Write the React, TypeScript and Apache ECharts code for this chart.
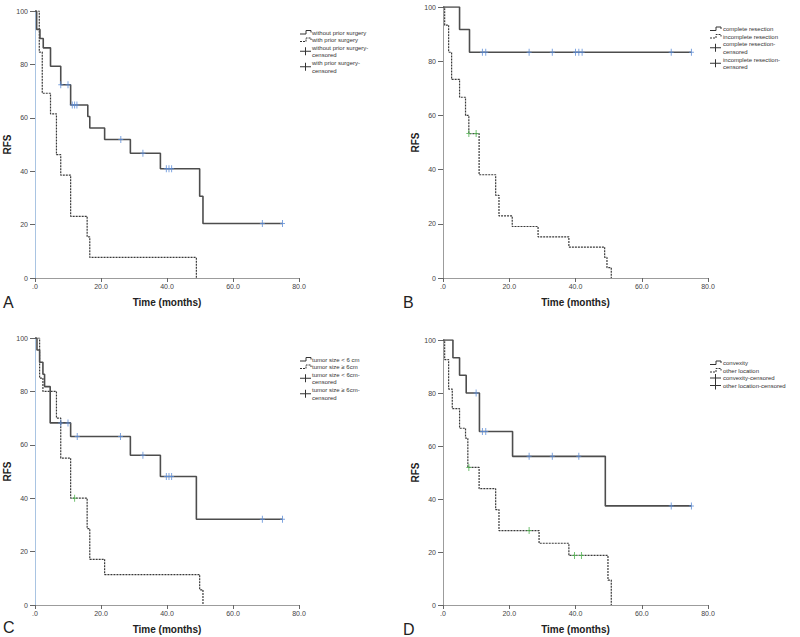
import React, { useEffect, useRef } from "react";
import * as echarts from "echarts";

// ---------- DATA ----------
// Panel A
const aSolidT = [0, 0.5, 1.5, 2.5, 4.7, 7.8, 10.8, 16, 16.6, 21.1, 28.9, 38, 49.9, 50.9, 75];
const aSolidS = [100, 93.1, 89.7, 86.2, 79.3, 72.4, 64.8, 60.5, 56.2, 51.9, 46.7, 40.9, 30.6, 20.4, 20.4];
const aSolidCensT = [7.8, 10, 11.3, 12, 12.7, 26, 32.7, 39.8, 40.6, 41.4, 68.9, 75];
const aSolidCensS = [72.4, 72.4, 64.8, 64.8, 64.8, 51.9, 46.7, 40.9, 40.9, 40.9, 20.4, 20.4];
const aDashT = [0, 1.3, 2.2, 4.7, 6.5, 7.8, 10.8, 15.8, 16.6, 48.9];
const aDashS = [100, 84.6, 69.2, 61.5, 46.2, 38.5, 23.1, 15.4, 7.7, 0];
const aDashCensT: number[] = [];
const aDashCensS: number[] = [];
const aLegend = ["without prior surgery", "with prior surgery", "without prior surgery-\ncensored", "with prior surgery-\ncensored"];

// Panel B
const bSolidT = [0, 5, 8, 75];
const bSolidS = [100, 91.7, 83.3, 83.3];
const bSolidCensT = [11.9, 12.9, 26, 33, 40, 41, 42, 68.9, 75];
const bSolidCensS = [83.3, 83.3, 83.3, 83.3, 83.3, 83.3, 83.3, 83.3, 83.3];
const bDashT = [0, 0.5, 1.7, 2.6, 5, 6.8, 7.8, 10.9, 15.9, 16.9, 20.9, 28.7, 38, 48.8, 49.5, 50.8];
const bDashS = [100, 93.3, 83.3, 73.3, 66.7, 60, 53.3, 38.1, 30.5, 22.9, 19.0, 15.2, 11.4, 7.6, 3.8, 0];
const bDashCensT = [7.8, 10];
const bDashCensS = [53.3, 53.3];
const bLegend = ["complete resection", "incomplete resection", "complete resection-\ncensored", "incomplete resection-\ncensored"];

// Panel C
const cSolidT = [0, 0.6, 1.4, 2.4, 2.9, 4.6, 10.8, 28.9, 38, 48.9, 75];
const cSolidS = [100, 95.5, 90.9, 86.4, 81.8, 68.2, 63.1, 56.1, 48.1, 32.1, 32.1];
const cSolidCensT = [7.8, 10, 12.8, 25.9, 32.7, 39.8, 40.6, 41.4, 68.9, 75];
const cSolidCensS = [68.2, 68.2, 63.1, 63.1, 56.1, 48.1, 48.1, 48.1, 32.1, 32.1];
const cDashT = [0, 1.4, 2.4, 6.5, 7.8, 10.8, 15.8, 16.6, 21.1, 49.9, 50.9];
const cDashS = [100, 85, 80, 70, 55, 40, 28.6, 17.1, 11.4, 5.7, 0];
const cDashCensT = [12];
const cDashCensS = [40];
const cLegend = ["tumor size < 6 cm", "tumor size \u2265 6cm", "tumor size < 6cm-\ncensored", "tumor size \u2265 6cm-\ncensored"];

// Panel D
const dSolidT = [0, 3, 5, 7, 11, 21, 49, 75];
const dSolidS = [100, 93.3, 86.7, 80, 65.5, 56.1, 37.4, 37.4];
const dSolidCensT = [10, 11.9, 12.9, 26, 33, 41, 68.9, 75];
const dSolidCensS = [80, 65.5, 65.5, 56.1, 56.1, 56.1, 37.4, 37.4];
const dDashT = [0, 0.5, 1.7, 2.8, 5, 6.8, 7.5, 10.9, 15.9, 16.9, 29, 38, 49.8, 50.8];
const dDashS = [100, 92.6, 81.5, 74.1, 66.7, 63, 51.9, 43.9, 36, 28.1, 23.3, 18.7, 9.4, 0];
const dDashCensT = [7.8, 26, 39.7, 41.8];
const dDashCensS = [51.9, 28.1, 18.7, 18.7];
const dLegend = ["convexity", "other location", "convexity-censored", "other location-censored"];

const panelLetters = ["A", "B", "C", "D"];
const yTickLabels = ["0", "20", "40", "60", "80", "100"];
const xTickLabels = [".0", "20.0", "40.0", "60.0", "80.0"];

// ---------- LAYOUT ----------
const grids = [
  { left: 35, top: 11, width: 264, height: 267 },
  { left: 443, top: 7, width: 265, height: 271 },
  { left: 35, top: 338, width: 264, height: 267 },
  { left: 443, top: 340, width: 265, height: 265 },
];
const yAxisColors = ["#a9c4e2", "#9c9c9c", "#a9c4e2", "#9c9c9c"];
const LEG_LH = 7.5;
const legendLayout = [
  { iconX: 300, textX: 312, rows: [32.5, 40, 51.25, 66.75] },
  { iconX: 710, textX: 723, rows: [29, 36.5, 47.75, 63.25] },
  { iconX: 300, textX: 312, rows: [359.5, 367, 378.25, 393.75] },
  { iconX: 710, textX: 723, rows: [363, 370.5, 378, 385.5] },
];
const letterPos = [
  { x: 3, y: 302 },
  { x: 403, y: 302 },
  { x: 3, y: 627 },
  { x: 403, y: 629 },
];

const panels = [
  { st: aSolidT, ss: aSolidS, sct: aSolidCensT, scs: aSolidCensS, dt: aDashT, ds: aDashS, dct: aDashCensT, dcs: aDashCensS, legend: aLegend },
  { st: bSolidT, ss: bSolidS, sct: bSolidCensT, scs: bSolidCensS, dt: bDashT, ds: bDashS, dct: bDashCensT, dcs: bDashCensS, legend: bLegend },
  { st: cSolidT, ss: cSolidS, sct: cSolidCensT, scs: cSolidCensS, dt: cDashT, ds: cDashS, dct: cDashCensT, dcs: cDashCensS, legend: cLegend },
  { st: dSolidT, ss: dSolidS, sct: dSolidCensT, scs: dSolidCensS, dt: dDashT, ds: dDashS, dct: dDashCensT, dcs: dDashCensS, legend: dLegend },
];

const zip = (t: number[], s: number[]) => t.map((v, i) => [v, s[i]]);
const CROSS = "path://M2,0H3V3H5V4H3V7H2V4H0V3H2Z";
const SOLID_COLOR = "#4d4d4d";
const DASH_COLOR = "#3a3a3a";
const LEG_FONT = "'Liberation Sans', Arial, sans-serif";
const AX_FONT = "Arial, 'Liberation Sans', sans-serif";

function buildOption() {
  const grid: any[] = [];
  const xAxis: any[] = [];
  const yAxis: any[] = [];
  const series: any[] = [];
  const graphic: any[] = [];

  panels.forEach((p, i) => {
    grid.push({ ...grids[i], containLabel: false });
    xAxis.push({
      type: "value",
      gridIndex: i,
      min: 0,
      max: 80,
      interval: 20,
      name: "Time (months)",
      nameLocation: "middle",
      nameGap: 19,
      nameTextStyle: { fontSize: 10, fontWeight: "bold", color: "#222", fontFamily: AX_FONT },
      axisLine: { show: true, onZero: false, lineStyle: { color: "#9c9c9c", width: 1 } },
      axisTick: { show: true, length: 4, lineStyle: { color: "#666" } },
      axisLabel: {
        fontSize: 7,
        color: "#444",
        margin: 5,
        fontFamily: AX_FONT,
        formatter: (v: number) => xTickLabels[Math.round(v / 20)] ?? String(v),
      },
      splitLine: { show: false },
    });
    yAxis.push({
      type: "value",
      gridIndex: i,
      min: 0,
      max: 100,
      interval: 20,
      name: "RFS",
      nameLocation: "middle",
      nameGap: 22,
      nameTextStyle: { fontSize: 10, fontWeight: "bold", color: "#222", fontFamily: AX_FONT },
      axisLine: { show: true, onZero: false, lineStyle: { color: yAxisColors[i], width: 1 } },
      axisTick: { show: true, length: 5, lineStyle: { color: "#666" } },
      axisLabel: {
        fontSize: 7,
        color: "#444",
        margin: 7,
        fontFamily: AX_FONT,
        formatter: (v: number) => yTickLabels[Math.round(v / 20)] ?? String(v),
      },
      splitLine: { show: false },
    });

    series.push({
      type: "line",
      xAxisIndex: i,
      yAxisIndex: i,
      step: "end",
      showSymbol: false,
      symbol: "none",
      data: zip(p.dt, p.ds),
      lineStyle: { color: DASH_COLOR, width: 1.2, type: [2, 1] },
      z: 2,
    });
    series.push({
      type: "line",
      xAxisIndex: i,
      yAxisIndex: i,
      step: "end",
      showSymbol: false,
      symbol: "none",
      data: zip(p.st, p.ss),
      lineStyle: { color: SOLID_COLOR, width: 1.6 },
      z: 3,
    });
    series.push({
      type: "scatter",
      xAxisIndex: i,
      yAxisIndex: i,
      symbol: CROSS,
      symbolSize: [5, 7],
      data: zip(p.sct, p.scs),
      itemStyle: { color: "#5f8fd8" },
      z: 4,
    });
    series.push({
      type: "scatter",
      xAxisIndex: i,
      yAxisIndex: i,
      symbol: CROSS,
      symbolSize: [5, 7],
      data: zip(p.dct, p.dcs),
      itemStyle: { color: "#4fb34f" },
      z: 4,
    });

    // legend drawn with graphic elements
    const L = legendLayout[i];
    p.legend.forEach((label, k) => {
      const yc = L.rows[k];
      const x0 = L.iconX;
      if (k === 0 || k === 1) {
        graphic.push({
          type: "polyline",
          shape: { points: [[x0, yc + 1.5], [x0 + 6, yc + 1.5], [x0 + 6, yc - 2], [x0 + 11, yc - 2], [x0 + 11, yc]] },
          style: { stroke: "#333", lineWidth: 1, fill: "none", lineDash: k === 1 ? [2, 1] : null },
        });
      } else {
        graphic.push({ type: "line", shape: { x1: x0, y1: yc, x2: x0 + 11, y2: yc }, style: { stroke: "#333", lineWidth: 1 } });
        graphic.push({ type: "line", shape: { x1: x0 + 5.5, y1: yc - 4, x2: x0 + 5.5, y2: yc + 4 }, style: { stroke: "#333", lineWidth: 1 } });
      }
      graphic.push({
        type: "text",
        x: L.textX,
        y: yc,
        style: { text: label, fontSize: 6, lineHeight: LEG_LH, fontFamily: LEG_FONT, fill: "#333", verticalAlign: "middle", align: "left" },
      });
    });

    graphic.push({
      type: "text",
      x: letterPos[i].x,
      y: letterPos[i].y,
      style: { text: panelLetters[i], fontSize: 16, fontFamily: AX_FONT, fill: "#222", verticalAlign: "middle", align: "left" },
    });
  });

  return { animation: false, backgroundColor: "#ffffff", grid, xAxis, yAxis, series, graphic };
}

export default function App() {
  const ref = useRef<HTMLDivElement>(null);
  useEffect(() => {
    if (!ref.current) return;
    const chart = echarts.init(ref.current, null, { renderer: "svg" });
    chart.setOption(buildOption() as any);
    return () => chart.dispose();
  }, []);
  return (
    <div
      ref={ref}
      style={{ position: "fixed", left: 0, top: 0, width: 800, height: 637, background: "#fff" }}
    />
  );
}
